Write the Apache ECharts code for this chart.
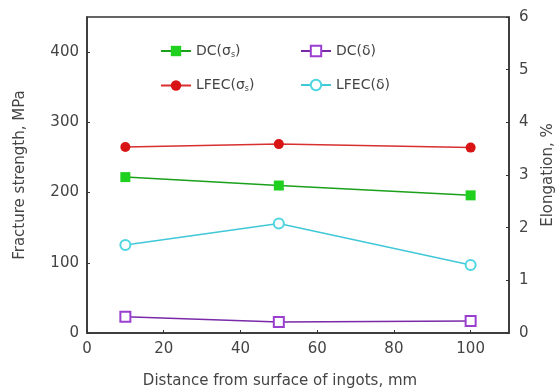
<!DOCTYPE html>
<html><head><meta charset="utf-8">
<script src="https://cdn.jsdelivr.net/npm/echarts@6/dist/echarts.min.js"></script>
<style>html,body{margin:0;padding:0;background:#fff}#c{width:555px;height:390px}</style>
</head><body><div id="c"></div>
<script>
const distances = [10, 50, 100];
const dcStrength = [222, 210, 196];
const lfecStrength = [265, 269, 264];
const dcElong = [0.31, 0.21, 0.23];
const lfecElong = [1.67, 2.08, 1.29];
const seriesNames = ['DC(σs)', 'DC(δ)', 'LFEC(σs)', 'LFEC(δ)'];

const pairs = v => distances.map((d, i) => [d, v[i]]);
const FONT = 'DejaVu Sans';
const TXT = '#444';

const chart = echarts.init(document.getElementById('c'));
const legendFmt = n => n.indexOf('σs') >= 0 ? '{n|' + n.replace('σs)', 'σ') + '}{s|s}{n|)}' : '{n|' + n + '}';
const legendText = {
  fontFamily: FONT, fontSize: 14, color: TXT,
  rich: { n: { fontFamily: FONT, fontSize: 14, color: TXT }, s: { fontFamily: FONT, fontSize: 8, color: TXT, verticalAlign: 'bottom', padding: [7, 0, 0, 0] } }
};
const tickFont = { fontFamily: FONT, fontSize: 15, color: TXT };
const nameFont = { fontFamily: FONT, fontSize: 15, color: TXT };
chart.setOption({
  animation: false,
  grid: { left: 87, right: 46, top: 17, bottom: 57, outerBoundsMode: 'none', containLabel: false, show: true, borderColor: '#333', borderWidth: 1.5 },
  legend: [
    { orient: 'vertical', left: 155, top: 39, itemGap: 20, itemWidth: 30, itemHeight: 13, data: [seriesNames[0], seriesNames[2]], formatter: legendFmt, textStyle: legendText },
    { orient: 'vertical', left: 295, top: 39, itemGap: 20, itemWidth: 30, itemHeight: 13, data: [seriesNames[1], seriesNames[3]], formatter: legendFmt, textStyle: legendText }
  ],
  xAxis: {
    type: 'value', min: 0, max: 110, interval: 20,
    name: 'Distance from surface of ingots, mm', nameLocation: 'middle', nameGap: 41,
    nameTextStyle: Object.assign({ padding: [0, 36, 0, 0] }, nameFont),
    axisLine: { show: true, lineStyle: { color: '#333', width: 1.5 } },
    axisTick: { show: true, inside: true, length: 3, lineStyle: { color: '#333' } },
    axisLabel: Object.assign({ showMaxLabel: false, margin: 9 }, tickFont),
    splitLine: { show: false }
  },
  yAxis: [
    {
      type: 'value', min: 0, max: 450, interval: 100, position: 'left',
      name: 'Fracture strength, MPa', nameLocation: 'middle', nameGap: 59, nameRotate: 90,
      nameTextStyle: nameFont,
      axisLine: { show: true, lineStyle: { color: '#333', width: 1.5 } },
      axisTick: { show: true, inside: true, length: 3, lineStyle: { color: '#333' } },
      axisLabel: Object.assign({ showMaxLabel: false, margin: 8 }, tickFont),
      splitLine: { show: false }
    },
    {
      type: 'value', min: 0, max: 6, interval: 1, position: 'right',
      name: 'Elongation, %', nameLocation: 'middle', nameGap: 32, nameRotate: 90,
      nameTextStyle: nameFont,
      axisLine: { show: true, lineStyle: { color: '#333', width: 1.5 } },
      axisTick: { show: true, inside: true, length: 3, lineStyle: { color: '#333' } },
      axisLabel: Object.assign({ margin: 10 }, tickFont),
      splitLine: { show: false }
    }
  ],
  series: [
    { name: seriesNames[0], type: 'line', yAxisIndex: 0, data: pairs(dcStrength), symbol: 'rect', symbolSize: 10,
      itemStyle: { color: '#1fd01f' }, lineStyle: { color: '#1aa01a', width: 1.5 } },
    { name: seriesNames[1], type: 'line', yAxisIndex: 1, data: pairs(dcElong), symbol: 'emptyRect', symbolSize: 10,
      itemStyle: { color: '#9b3fd0', borderWidth: 1.5 }, lineStyle: { color: '#7a2aa8', width: 1.5 } },
    { name: seriesNames[2], type: 'line', yAxisIndex: 0, data: pairs(lfecStrength), symbol: 'circle', symbolSize: 10,
      itemStyle: { color: '#d81414' }, lineStyle: { color: '#d83030', width: 1.5 } },
    { name: seriesNames[3], type: 'line', yAxisIndex: 1, data: pairs(lfecElong), symbol: 'emptyCircle', symbolSize: 10,
      itemStyle: { color: '#4fd6e0', borderWidth: 1.5 }, lineStyle: { color: '#40c8d8', width: 1.5 } }
  ]
});
</script></body></html>
